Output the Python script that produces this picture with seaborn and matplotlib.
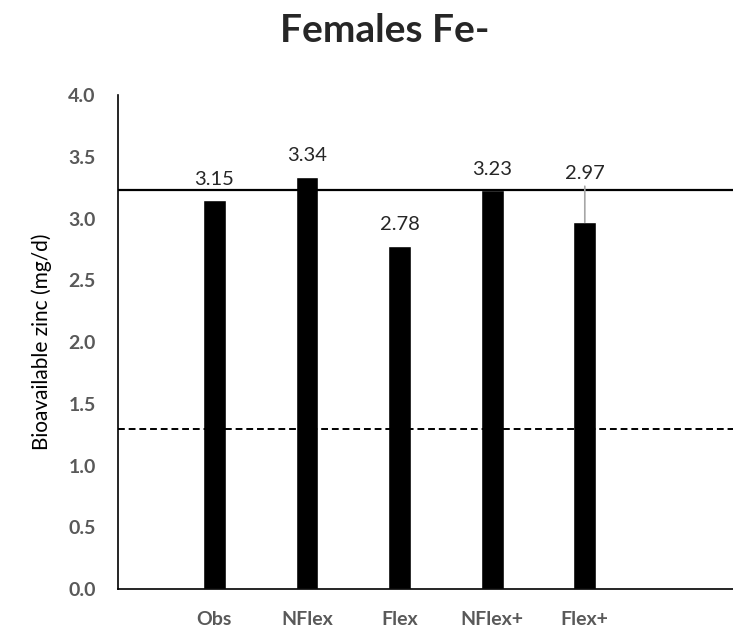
import matplotlib
matplotlib.use("Agg")
import matplotlib.pyplot as plt
import seaborn as sns
import pandas as pd

# data
groups = ["Obs", "NFlex", "Flex", "NFlex+", "Flex+"]
zinc = [3.15, 3.34, 2.78, 3.23, 2.97]
requirement_line = 3.23
cutoff_line = 1.30
yticks = [0.0, 0.5, 1.0, 1.5, 2.0, 2.5, 3.0, 3.5, 4.0]

df = pd.DataFrame({"group": groups, "zinc": zinc})

sns.set_style("white")
plt.rcParams["font.family"] = ["Lato", "DejaVu Sans"]

fig = plt.figure(figsize=(7.33, 6.3), dpi=100)
ax = fig.add_axes([0.161, 0.065, 0.839, 0.784])

sns.barplot(data=df, x="group", y="zinc", order=groups, color="black",
            width=0.245, saturation=1, ax=ax)

ax.set_xlim(-1.04, 5.6)
ax.set_ylim(0, 4.0)
ax.set_yticks(yticks)
ax.set_yticklabels([f"{v:.1f}" for v in yticks])

# reference lines
ax.axhline(requirement_line, color="black", lw=1.6, zorder=1)
ax.axhline(cutoff_line, color="black", lw=1.4, ls=(0, (3.5, 2)), zorder=1)

# value labels
for i, v in enumerate(zinc):
    if groups[i] == "Flex+":
        ax.annotate(f"{v:.2f}", xy=(i, v), xytext=(i, zinc[3] + 0.07),
                    ha="center", va="bottom", fontsize=14.5,
                    arrowprops=dict(arrowstyle="-", color="#a6a6a6", lw=1.2,
                                    shrinkA=1, shrinkB=0))
    else:
        ax.annotate(f"{v:.2f}", xy=(i, v), xytext=(0, 9),
                    textcoords="offset points", ha="center", va="bottom",
                    fontsize=14.5)

for s in ["top", "right"]:
    ax.spines[s].set_visible(False)
for s in ["left", "bottom"]:
    ax.spines[s].set_color("black")
    ax.spines[s].set_linewidth(1.2)

ax.tick_params(axis="y", direction="out", length=6, width=1.2, color="black",
               labelsize=14, labelcolor="#595959", pad=10)
ax.tick_params(axis="x", length=0, labelsize=14, labelcolor="#595959", pad=16)
for lab in ax.get_xticklabels() + ax.get_yticklabels():
    lab.set_fontweight("bold")

ax.set_xlabel("")
ax.set_ylabel("Bioavailable zinc (mg/d)", fontsize=15, color="black", labelpad=12)

fig.suptitle("Females Fe-", x=0.525, y=0.98, fontsize=28, fontweight="bold")

fig.savefig("out.png", dpi=100)
